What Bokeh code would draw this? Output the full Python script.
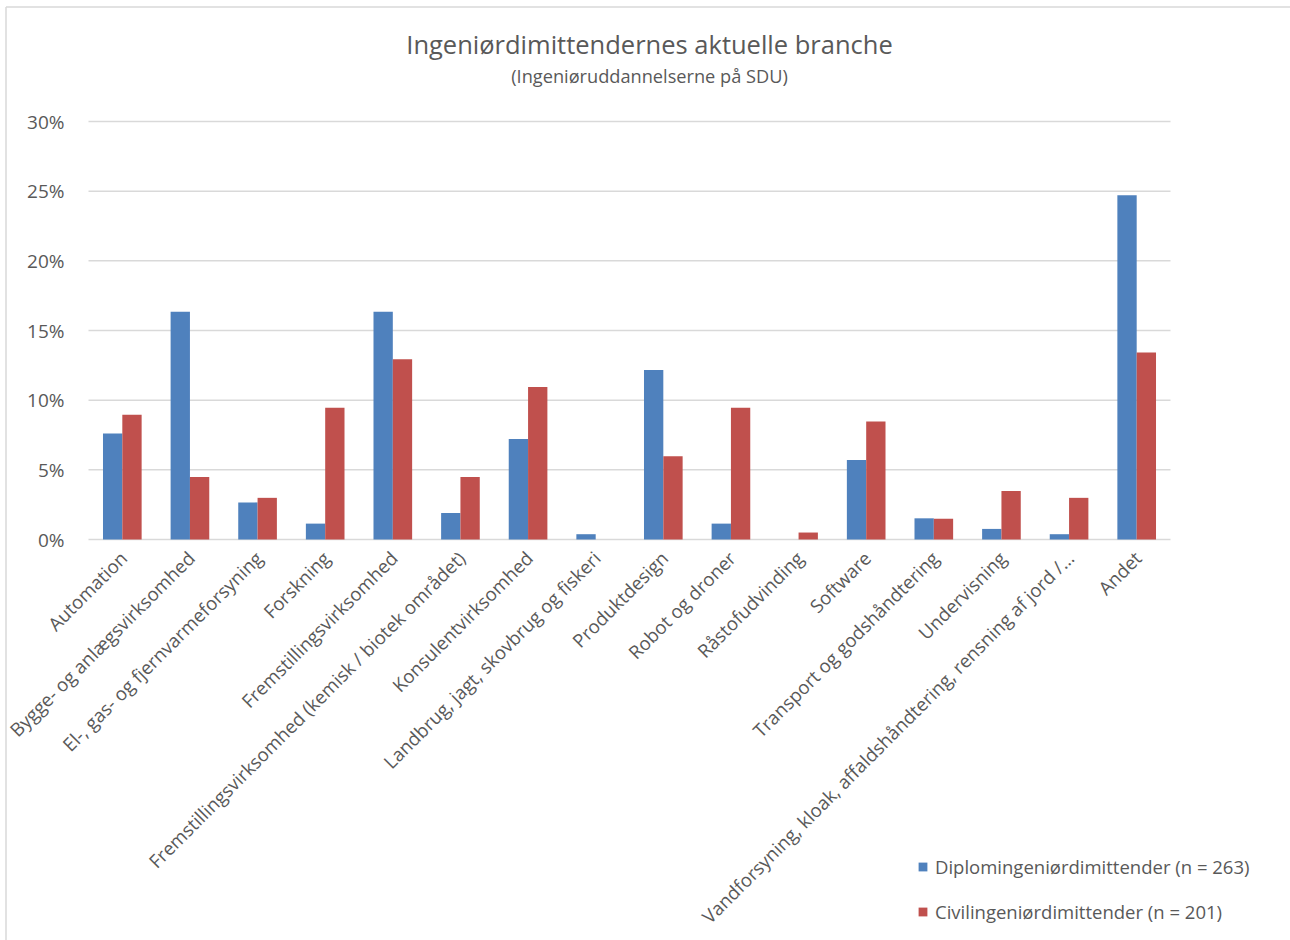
import math
from bokeh.plotting import figure
from bokeh.models import ColumnDataSource, Range1d, Legend, LegendItem
from bokeh.core.properties import value
from bokeh.embed import file_html
from bokeh.resources import INLINE

# Branches and share of graduates (%) per education type
categories = [
    "Automation",
    "Bygge- og anlægsvirksomhed",
    "El-, gas- og fjernvarmeforsyning",
    "Forskning",
    "Fremstillingsvirksomhed",
    "Fremstillingsvirksomhed (kemisk / biotek området)",
    "Konsulentvirksomhed",
    "Landbrug, jagt, skovbrug og fiskeri",
    "Produktdesign",
    "Robot og droner",
    "Råstofudvinding",
    "Software",
    "Transport og godshåndtering",
    "Undervisning",
    "Vandforsyning, kloak, affaldshåndtering, rensning af jord /…",
    "Andet",
]
diplom = [7.60, 16.35, 2.66, 1.14, 16.35, 1.90, 7.22, 0.38,
          12.17, 1.14, 0.00, 5.70, 1.52, 0.76, 0.38, 24.71]
civil = [8.96, 4.48, 2.99, 9.45, 12.94, 4.48, 10.95, 0.00,
         5.97, 9.45, 0.50, 8.46, 1.49, 3.48, 2.99, 13.43]
y_ticks = [0, 5, 10, 15, 20, 25, 30]
tick_labels = ["0%", "5%", "10%", "15%", "20%", "25%", "30%"]

title = "Ingeniørdimittendernes aktuelle branche"
subtitle = "(Ingeniøruddannelserne på SDU)"
series_labels = ["Diplomingeniørdimittender (n = 263)", "Civilingeniørdimittender (n = 201)"]

blue = "#4F81BD"
red = "#C0504D"
text_color = "#595959"
grid_color = "#D9D9D9"
font = "Open Sans"

# Page layout (canvas pixels)
W, H = 1290, 940
PLOT_L, PLOT_R, PLOT_T, PLOT_B = 88, 1170, 121, 539
FRAME_L, FRAME_T = 3, 4
n = len(categories)
y_max = y_ticks[-1]


def px_x(px):
    return (px - PLOT_L) / (PLOT_R - PLOT_L) * n


def px_y(py):
    return (PLOT_B - py) / (PLOT_B - PLOT_T) * y_max


bw = 0.2857
centers = [i + 0.5 for i in range(n)]
source = ColumnDataSource(data=dict(
    cat=categories,
    x_d=[c - bw / 2 for c in centers],
    x_c=[c + bw / 2 for c in centers],
    diplom=diplom,
    civil=civil,
))

p = figure(
    width=W, height=H,
    x_range=Range1d(px_x(FRAME_L), px_x(W)),
    y_range=Range1d(px_y(H), px_y(FRAME_T)),
    x_axis_location=None, y_axis_location=None,
    output_backend="svg", toolbar_location=None,
    min_border_left=FRAME_L, min_border_top=FRAME_T,
    min_border_right=0, min_border_bottom=0,
    title=None,
)
p.outline_line_color = None
p.grid.visible = False
p.background_fill_color = "white"
p.border_fill_color = "white"

# Chart area border (left and top edges)
p.segment(x0=[px_x(5.5), px_x(5.5)], y0=[px_y(6.5), px_y(6.5)],
          x1=[px_x(5.5), px_x(W + 10)], y1=[px_y(H + 10), px_y(6.5)],
          line_color=grid_color, line_width=1.5)

# Horizontal gridlines
p.segment(x0=[0] * len(y_ticks), x1=[n] * len(y_ticks), y0=y_ticks, y1=y_ticks,
          line_color=grid_color, line_width=1.5)

# Bars
r1 = p.vbar(x="x_d", top="diplom", width=bw, source=source,
            fill_color=blue, line_color=None)
r2 = p.vbar(x="x_c", top="civil", width=bw, source=source,
            fill_color=red, line_color=None)

# Value axis labels
p.text(x=[0] * len(y_ticks), y=y_ticks, text=tick_labels,
       x_offset=-24, text_align=value("right"), text_baseline=value("middle"),
       text_font=value(font), text_font_size=value("19px"), text_color=text_color)

# Category labels, rotated 45 degrees
p.text(x=centers, y=[0] * n, text=categories, angle=math.pi / 4,
       x_offset=1, y_offset=15,
       text_align=value("right"), text_baseline=value("middle"),
       text_font=value(font), text_font_size=value("18.6px"), text_color=text_color)

# Title and subtitle
p.text(x=[n / 2], y=[y_max], text=[title], x_offset=20, y_offset=-(PLOT_T - 43),
       text_align=value("center"), text_baseline=value("alphabetic"),
       text_font=value(font), text_font_size=value("25.5px"), text_color=text_color)
p.text(x=[n / 2], y=[y_max], text=[subtitle], x_offset=20, y_offset=-(PLOT_T - 75),
       text_align=value("center"), text_baseline=value("alphabetic"),
       text_font=value(font), text_font_size=value("18.2px"), text_color=text_color)

legend = Legend(
    items=[LegendItem(label=series_labels[0], renderers=[r1]),
           LegendItem(label=series_labels[1], renderers=[r2])],
    location=(917 - FRAME_L, H - 924),
    orientation="vertical",
    glyph_width=11, glyph_height=11, label_height=11,
    label_standoff=7, spacing=20, padding=0, margin=0,
    border_line_color=None, background_fill_alpha=0,
    label_text_font=font, label_text_font_size="18.5px", label_text_color=text_color,
)
p.add_layout(legend, "center")

open("out.html", "w").write(file_html(p, INLINE))
